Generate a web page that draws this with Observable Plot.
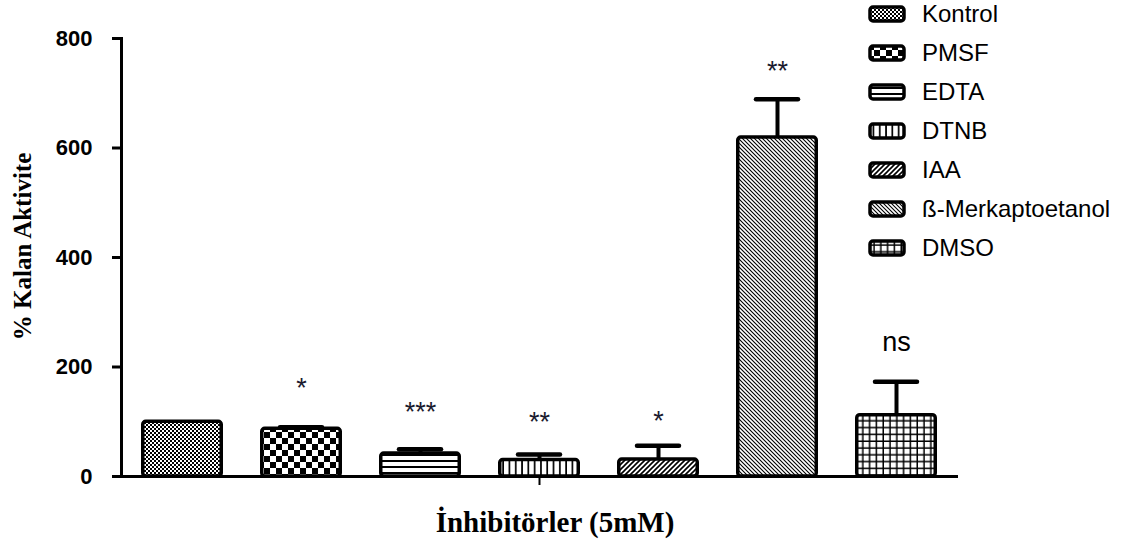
<!DOCTYPE html>
<html>
<head>
<meta charset="utf-8">
<script src="https://cdn.jsdelivr.net/npm/d3@7"></script>
<script src="https://cdn.jsdelivr.net/npm/@observablehq/plot@0.6"></script>
<style>
  body { margin: 0; background: #fff; }
  #wrap { position: relative; width: 1128px; height: 544px; overflow: hidden; }
  #legend { position: absolute; left: 868px; top: 0; font-family: "Liberation Sans", Arial, sans-serif; font-size: 24px; color: #000; }
  .row { position: absolute; left: 0; height: 26px; display: flex; align-items: center; white-space: nowrap; }
  .row svg { margin-right: 16px; }
</style>
</head>
<body>
<svg width="0" height="0" style="position:absolute">
  <defs>
    <pattern id="p0" patternUnits="userSpaceOnUse" width="4" height="4">
      <rect width="4" height="4" fill="#000"/>
      <rect x="0" y="0" width="2" height="2" fill="#fff"/>
      <rect x="2" y="2" width="2" height="2" fill="#fff"/>
    </pattern>
    <pattern id="p1" patternUnits="userSpaceOnUse" width="12" height="12">
      <rect width="12" height="12" fill="#fff"/>
      <rect x="0" y="0" width="6" height="6" fill="#000"/>
      <rect x="6" y="6" width="6" height="6" fill="#000"/>
    </pattern>
    <pattern id="p2" patternUnits="userSpaceOnUse" width="6" height="6">
      <rect width="6" height="6" fill="#fff"/>
      <rect x="0" y="4" width="6" height="2" fill="#000"/>
    </pattern>
    <pattern id="p3" patternUnits="userSpaceOnUse" width="6.3" height="6">
      <rect width="6.3" height="6" fill="#fff"/>
      <rect x="4.6" y="0" width="1.7" height="6" fill="#000"/>
    </pattern>
    <pattern id="p4" patternUnits="userSpaceOnUse" width="5" height="5">
      <rect width="5" height="5" fill="#fff"/>
      <path d="M-1,6 L6,-1 M-1,1 L1,-1 M4,6 L6,4" stroke="#000" stroke-width="1.6"/>
    </pattern>
    <pattern id="p5" patternUnits="userSpaceOnUse" width="4" height="4">
      <rect width="4" height="4" fill="#fff"/>
      <path d="M-1,-1 L5,5 M3,-1 L5,1 M-1,3 L1,5" stroke="#000" stroke-width="1.1"/>
    </pattern>
    <pattern id="p6" patternUnits="userSpaceOnUse" width="6.8" height="6.8">
      <rect width="6.8" height="6.8" fill="#fff"/>
      <rect x="5.3" y="0" width="1.5" height="6.8" fill="#000"/>
      <rect x="0" y="5.3" width="6.8" height="1.5" fill="#000"/>
    </pattern>
  </defs>
</svg>
<div id="wrap">
  <div id="chart"></div>
  <div id="legend"></div>
</div>
<script>
// ---- data ----
const categories = ["Kontrol", "PMSF", "EDTA", "DTNB", "IAA", "ß-Merkaptoetanol", "DMSO"];
const values = [100, 87, 42, 30, 31, 619, 112];
const errors = [0, 3, 8, 10, 25, 70, 61];
const sigLabels = ["", "*", "***", "**", "*", "**", "ns"];
const sigLabelY = [0, 161, 118, 98, 101, 740, 245];
const yTicks = [0, 200, 400, 600, 800];
const patterns = ["url(#p0)", "url(#p1)", "url(#p2)", "url(#p3)", "url(#p4)", "url(#p5)", "url(#p6)"];
const xTitle = "İnhibitörler (5mM)";
const yTitle = "% Kalan Aktivite";

const rows = categories.map((c, i) => ({
  cat: c, value: values[i], err: errors[i], top: values[i] + errors[i],
  sig: sigLabels[i], sigY: sigLabelY[i], pat: patterns[i]
}));
const errRows = rows.filter(d => d.err > 0);
const starRows = rows.filter(d => d.sig !== "" && d.sig !== "ns");
const nsRows = rows.filter(d => d.sig === "ns");

const chart = Plot.plot({
  width: 1128,
  height: 544,
  marginLeft: 121,
  marginRight: 170,
  marginTop: 38,
  marginBottom: 68,
  style: { background: "#fff", color: "#000" },
  x: { domain: categories, paddingInner: 0.31, paddingOuter: 0.155, axis: null },
  y: { domain: [0, 800], axis: null },
  marks: [
    Plot.ruleX(errRows, { x: "cat", y1: "value", y2: "top", stroke: "#000", strokeWidth: 4 }),
    Plot.tickY(errRows, { x: "cat", y: "top", stroke: "#000", strokeWidth: 4.5, inset: 20, strokeLinecap: "round" }),
    Plot.barY(rows, { x: "cat", y: "value", fill: d => d.pat, stroke: "#000", strokeWidth: 3.5, rx: 3, strokeLinejoin: "round", insetLeft: 1.75, insetRight: 1.75 }),
    Plot.text(starRows, { x: "cat", y: "sigY", text: "sig", fontSize: 27, fontFamily: "Liberation Sans, Arial, sans-serif", fill: "#1a1a2e", lineAnchor: "middle" }),
    Plot.text(nsRows, { x: "cat", y: "sigY", text: "sig", fontSize: 27, fontFamily: "Liberation Sans, Arial, sans-serif", fill: "#000", lineAnchor: "middle" }),
    Plot.ruleY([0], { stroke: "#000", strokeWidth: 3 }),
    Plot.frame({ anchor: "left", stroke: "#000", strokeWidth: 3 }),
    Plot.axisY({ ticks: yTicks, tickSize: 9, tickPadding: 20, strokeWidth: 3, fontSize: 22, fontWeight: "bold", fontFamily: "Liberation Sans, Arial, sans-serif", label: null }),
    Plot.axisX({ ticks: ["DTNB"], tickFormat: () => "", tickSize: 9, strokeWidth: 2, label: null }),
    Plot.text([xTitle], { frameAnchor: "bottom", dx: 15, dy: 55, text: d => d, fontSize: 29, fontWeight: "bold", fontFamily: "Liberation Serif, Times New Roman, serif", lineAnchor: "bottom" }),
    Plot.text([yTitle], { frameAnchor: "left", dx: -99, dy: -11, rotate: -90, text: d => d, fontSize: 25, fontWeight: "bold", fontFamily: "Liberation Serif, Times New Roman, serif", textAnchor: "middle", lineAnchor: "middle" })
  ]
});
document.getElementById("chart").appendChild(chart);

// legend
const legend = document.getElementById("legend");
categories.forEach((c, i) => {
  const row = document.createElement("div");
  row.className = "row";
  row.style.top = (14 + 39 * i - 13) + "px";
  row.innerHTML = `<svg width="38" height="18"><rect x="2" y="2" width="34" height="14" rx="3" fill="${patterns[i]}" stroke="#000" stroke-width="3.5"/></svg><span>${c}</span>`;
  legend.appendChild(row);
});
</script>
</body>
</html>
